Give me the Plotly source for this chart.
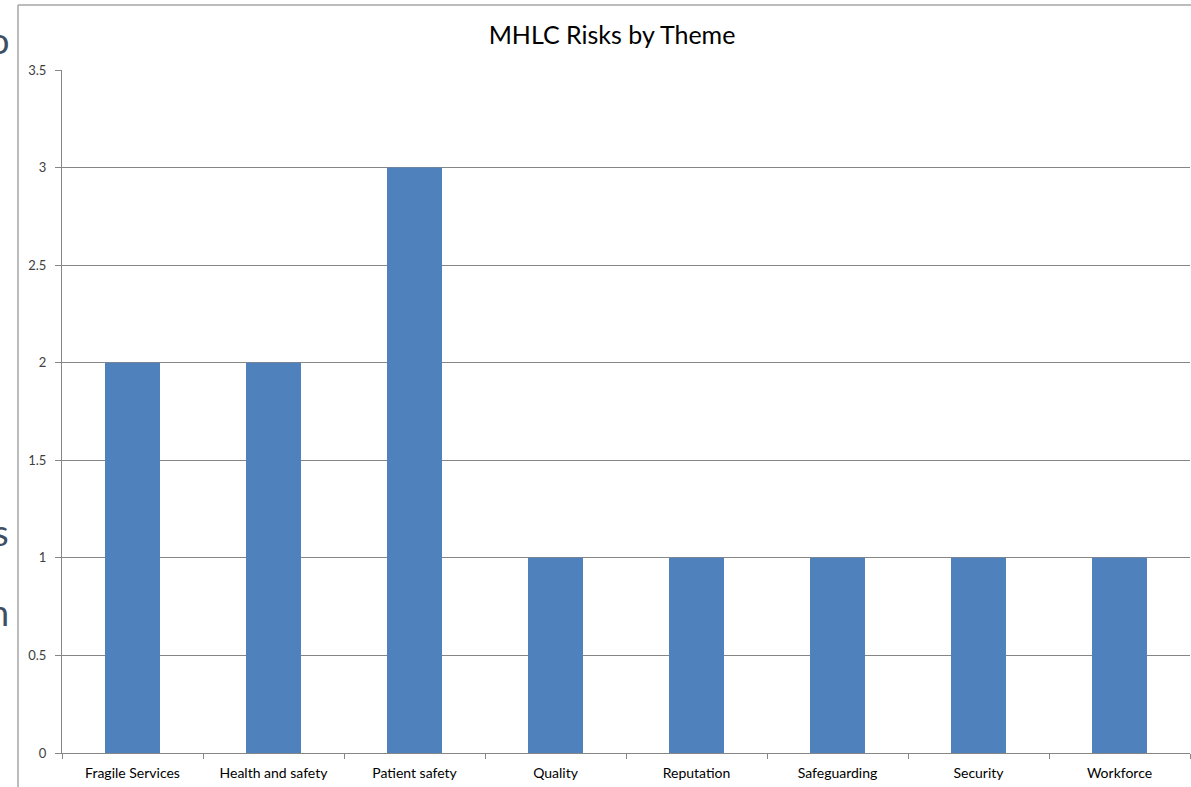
import plotly.graph_objects as go

categories = ["Fragile Services", "Health and safety", "Patient safety", "Quality",
              "Reputation", "Safeguarding", "Security", "Workforce"]
risk_counts = [2, 2, 3, 1, 1, 1, 1, 1]
y_tick_values = [0, 0.5, 1, 1.5, 2, 2.5, 3, 3.5]
y_tick_labels = ["0", "0.5", "1", "1.5", "2", "2.5", "3", "3.5"]

W, H = 1191, 787
L, R, T, B = 62, 1, 70, 34
pw, ph = W - L - R, H - T - B

def px_x(x):
    return (x - L) / pw

def px_y(y):
    return (H - B - y) / ph

fig = go.Figure(go.Bar(
    x=categories, y=risk_counts,
    marker=dict(color="#4F81BD", line=dict(width=0)),
    width=0.39,
))

fig.update_layout(
    width=W, height=H,
    margin=dict(l=L, r=R, t=T, b=B),
    paper_bgcolor="white", plot_bgcolor="white",
    font=dict(family="Lato, Open Sans, sans-serif", color="#000000"),
    showlegend=False,
    title=dict(text="MHLC Risks by Theme", x=612 / W, xref="container", xanchor="center",
               y=1 - 35 / H, yref="container", yanchor="middle",
               font=dict(size=25, color="#000000", family="Lato, Open Sans, sans-serif")),
    bargap=0.61,
)
fig.update_xaxes(
    showgrid=False, showline=True, linecolor="#868686", linewidth=1,
    ticks="outside", tickson="boundaries", ticklen=5, tickcolor="#868686",
    tickfont=dict(size=14, color="#000000"), range=[-0.5, 7.5],
    ticklabelstandoff=7,
)
fig.update_yaxes(
    range=[0, 3.5], tickvals=y_tick_values, ticktext=y_tick_labels,
    showgrid=True, gridcolor="#868686", gridwidth=1,
    showline=True, linecolor="#868686", linewidth=1,
    ticks="outside", ticklen=6, tickcolor="#868686",
    tickfont=dict(size=13, color="#404040"), zeroline=False,
    ticklabelstandoff=6,
)

# outer chart frame (left and top edges)
fig.add_shape(type="line", xref="paper", yref="paper",
              x0=px_x(18), x1=px_x(18), y0=px_y(5), y1=px_y(H + 5),
              line=dict(color="#A6A6A6", width=1.5))
fig.add_shape(type="line", xref="paper", yref="paper",
              x0=px_x(18), x1=px_x(W + 5), y0=px_y(5), y1=px_y(5),
              line=dict(color="#A6A6A6", width=1.5))

# cut-off slide text fragments at the left edge (cut off in the reference too)
for txt, yy in [("o", 40), ("s", 532), ("n", 612)]:
    fig.add_annotation(text=txt, xref="paper", yref="paper", x=px_x(11), y=px_y(yy),
                       xanchor="right", yanchor="middle", showarrow=False,
                       font=dict(size=36, color="#3F4F63", family="Lato, sans-serif"))

fig.write_html("out.html")
